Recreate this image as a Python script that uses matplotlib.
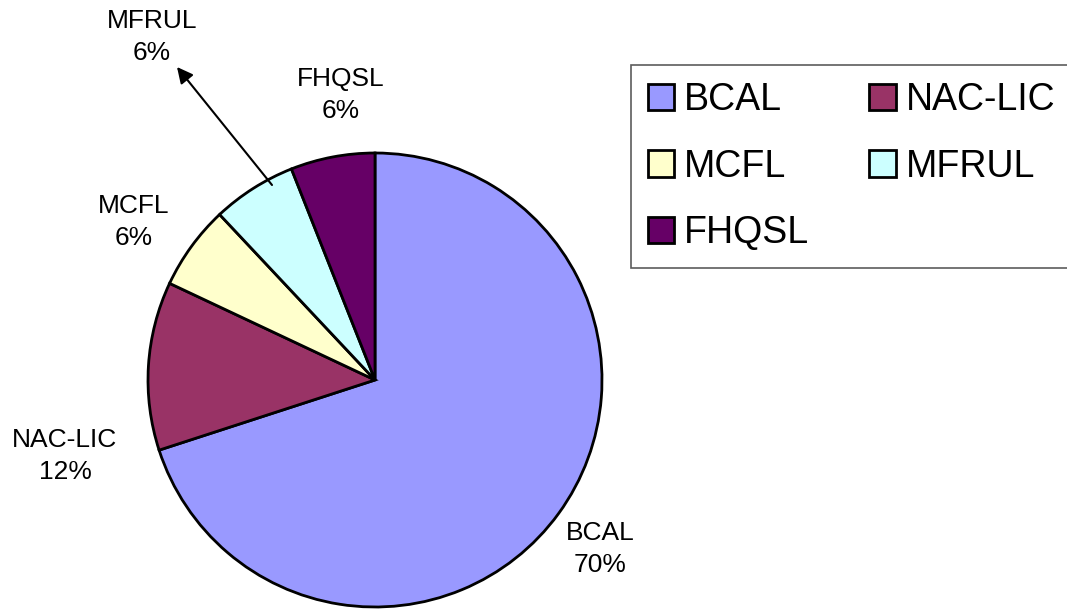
import matplotlib
matplotlib.use('Agg')
import matplotlib.pyplot as plt

plt.rcParams['font.family'] = ['Liberation Sans', 'DejaVu Sans']

# share of each unit, in percent
names = ['BCAL', 'NAC-LIC', 'MCFL', 'MFRUL', 'FHQSL']
shares = [70, 12, 6, 6, 6]
colours = ['#9999FF', '#993366', '#FFFFCC', '#CCFFFF', '#660066']

W, H = 1067, 609
fig = plt.figure(figsize=(W / 100, H / 100), dpi=100)
ax = fig.add_axes([0, 0, 1, 1])

wedges, _ = ax.pie(shares, colors=colours, startangle=90, counterclock=False,
                   center=(375, H - 380), radius=227,
                   wedgeprops=dict(edgecolor='black', linewidth=2.0))

ax.set_xlim(0, W)
ax.set_ylim(0, H)
ax.set_aspect('equal')
ax.axis('off')

# data labels (name + percent), placed around the pie
label_pos = {
    'BCAL': (600, H - 549),
    'NAC-LIC': (65, H - 456),
    'MCFL': (134, H - 222),
    'FHQSL': (341, H - 95),
}
for n, s in zip(names, shares):
    if n in label_pos:
        ax.text(label_pos[n][0], label_pos[n][1], f'{n}\n{s}%', ha='center', va='center',
                fontsize=19, linespacing=1.4)

# MFRUL label pulled out with a leader arrow
i = names.index('MFRUL')
ax.annotate('', xy=(177, H - 67), xytext=(272, H - 185), textcoords='data',
            arrowprops=dict(arrowstyle='-|>', color='black', lw=1.5,
                            mutation_scale=24, shrinkA=0, shrinkB=0))
ax.text(152, H - 37, f'{names[i]}\n{shares[i]}%', ha='center', va='center',
        fontsize=19, linespacing=1.4)

# legend in row order: BCAL, NAC-LIC / MCFL, MFRUL / FHQSL
order = [0, 2, 4, 1, 3]
leg = fig.legend([wedges[k] for k in order], [names[k] for k in order],
                 ncol=2, loc='upper left', bbox_to_anchor=(631 / W, 1 - 65 / H),
                 borderaxespad=0, fontsize=27, frameon=True, fancybox=False,
                 handlelength=0.7, handleheight=0.7, handletextpad=0.27,
                 columnspacing=1.6, labelspacing=0.82, borderpad=0.45)
leg.get_frame().set_edgecolor('#333333')
leg.get_frame().set_linewidth(1.2)
for h in leg.legend_handles:
    h.set_linewidth(2.0)

fig.savefig('out.png', dpi=100)
